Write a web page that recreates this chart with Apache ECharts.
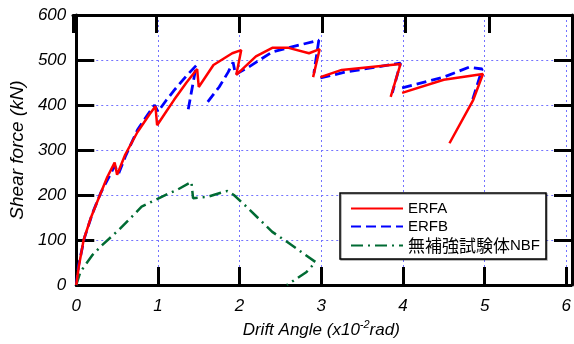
<!DOCTYPE html>
<html>
<head>
<meta charset="utf-8">
<script src="https://cdn.jsdelivr.net/npm/echarts@6/dist/echarts.min.js"></script>
<style>
  html, body { margin: 0; padding: 0; background: #fff; }
  #main { width: 574px; height: 344px; }
</style>
</head>
<body>
<div id="main"></div>
<script>
// drift angle (x10^-2 rad) / shear force (kN); null = break in the line
var erfaX = [0, 0.03, 0.09, 0.18, 0.29, 0.38, 0.47, 0.5, 0.6, 0.75, 0.9, 0.97, 0.99, 1.1, 1.2, 1.35, 1.48, 1.5, 1.68, 1.91, 2.02, 1.96, 2.2, 2.4, 2.6, 2.85, 2.98, 2.9, null,
  2.99, 3.25, 3.97, 3.85, null, 3.99, 4.5, 4.98, 4.86, 4.57];
var erfaY = [0, 40, 100, 150, 200, 240, 272, 245, 290, 340, 380, 397, 355, 385, 412, 450, 480, 440, 489, 515, 522, 467, 508, 527, 527, 515, 524, 462, null,
  462, 478, 491, 418, null, 427, 456, 469, 411, 315];

var erfbX = [0, 0.03, 0.1, 0.2, 0.3, 0.4, 0.47, 0.52, 0.6, 0.75, 0.88, 0.96, 1.0, 1.1, 1.2, 1.35, 1.47, 1.37, null,
  1.61, 1.75, 1.86, 1.92, 1.95, 2.1, 2.4, 2.64, 2.97, 2.91, null, 2.99, 3.29, 3.97, 3.87, null, 3.99, 4.5, 4.81, 4.97, 4.85];
var erfbY = [0, 45, 105, 160, 205, 240, 265, 248, 285, 345, 380, 400, 385, 410, 433, 465, 488, 389, null,
  407, 440, 473, 495, 468, 483, 518, 529, 544, 471, null, 460, 473, 493, 427, null, 438, 462, 484, 480, 410];

var nbfX = [0, 0.05, 0.2, 0.32, 0.53, 0.8, 0.99, 1.14, 1.23, 1.41, 1.43, 1.61, 1.77, 1.85, 1.93, 2.09, 2.4, 2.58, 2.93, 2.82, 2.58];
var nbfY = [0, 29, 67, 89, 124, 174, 191, 204, 211, 229, 193, 196, 205, 209, 200, 173, 118, 96, 51, 29, 0];

var seriesNames = ['ERFA', 'ERFB', '無補強試験体NBF'];

function toPairs(xs, ys) {
  return xs.map(function (x, i) {
    return x === null ? ['-', '-'] : [x, ys[i]];
  });
}

var chart = echarts.init(document.getElementById('main'));
var font = "'Liberation Sans', Arial, sans-serif";

function frameLine() {
  return { show: true, lineStyle: { color: '#000', width: 3 } };
}
function frameTick() {
  return { show: true, inside: true, length: 18, lineStyle: { color: '#000', width: 3 } };
}
function gridLines() {
  return { show: true, lineStyle: { color: '#7373ff', width: 1, type: [2, 3] } };
}
var noDot = { color: 'rgba(0,0,0,0)', borderWidth: 0 };
var box = { left: 73, right: 2, top: 15, bottom: 59 };

chart.setOption({
  animation: false,
  backgroundColor: '#fff',
  // grid 1 is the same box with both axes reversed: its zero lines fall on
  // the top and right edges, which gives the top and right frame with ticks
  grid: [box, { left: box.left, right: box.right, top: box.top, bottom: box.bottom }],
  xAxis: [{
    type: 'value', min: 0, max: 6, interval: 1,
    axisLine: frameLine(), axisTick: frameTick(),
    axisLabel: { color: '#000', fontSize: 17, fontStyle: 'italic', fontFamily: font, margin: 13 },
    splitLine: gridLines(),
    name: '{a|Drift Angle (x10}{s|-2}{a|rad)}',
    nameLocation: 'middle', nameGap: 33,
    nameTextStyle: {
      rich: {
        a: { fontSize: 17, fontStyle: 'italic', fontFamily: font, color: '#000' },
        s: { fontSize: 11, fontStyle: 'italic', fontFamily: font, color: '#000', padding: [0, 0, 10, 0] }
      }
    }
  }, {
    type: 'value', gridIndex: 1, min: 0, max: 6, interval: 1, inverse: true, position: 'top',
    axisLine: frameLine(), axisTick: frameTick(),
    axisLabel: { show: false }, splitLine: { show: false }
  }],
  yAxis: [{
    type: 'value', min: 0, max: 600, interval: 100,
    axisLine: frameLine(), axisTick: frameTick(),
    axisLabel: { color: '#000', fontSize: 17, fontStyle: 'italic', fontFamily: font, margin: 10 },
    splitLine: gridLines(),
    name: 'Shear force (kN)',
    nameLocation: 'middle', nameGap: 46,
    nameTextStyle: { fontSize: 19, fontStyle: 'italic', fontFamily: font, color: '#000' }
  }, {
    type: 'value', gridIndex: 1, min: 0, max: 600, interval: 100, inverse: true, position: 'right',
    axisLine: frameLine(), axisTick: frameTick(),
    axisLabel: { show: false }, splitLine: { show: false }
  }],
  legend: {
    data: seriesNames,
    orient: 'vertical',
    left: 340, top: 193,
    padding: [8, 6, 5, 10],
    itemWidth: 52, itemHeight: 12, itemGap: 3,
    backgroundColor: '#fff',
    borderColor: '#000', borderWidth: 1.5,
    shadowColor: 'rgba(0,0,0,0.35)', shadowOffsetX: 1, shadowOffsetY: 1,
    formatter: function (name) {
      if (name === seriesNames[2]) return '{c|無補強試験体}{l|NBF}';
      return '{l|' + name + '}';
    },
    textStyle: {
      color: '#000',
      rich: {
        l: { fontSize: 15, fontFamily: font, color: '#000', lineHeight: 16 },
        c: { fontSize: 17, fontFamily: "'Noto Sans CJK JP', sans-serif", color: '#000', lineHeight: 16 }
      }
    }
  },
  series: [{
    name: seriesNames[0], type: 'line', symbol: 'none', z: 4,
    data: toPairs(erfaX, erfaY),
    lineStyle: { color: '#ff0000', width: 2.5, type: 'solid' },
    itemStyle: noDot
  }, {
    name: seriesNames[1], type: 'line', symbol: 'none', z: 3,
    data: toPairs(erfbX, erfbY),
    lineStyle: { color: '#0000ff', width: 2.8, type: [10, 5] },
    itemStyle: noDot
  }, {
    name: seriesNames[2], type: 'line', symbol: 'none', z: 3,
    data: toPairs(nbfX, nbfY),
    lineStyle: { color: '#006b33', width: 2.5, type: [12, 5, 2, 5] },
    itemStyle: noDot
  }]
});
</script>
</body>
</html>
